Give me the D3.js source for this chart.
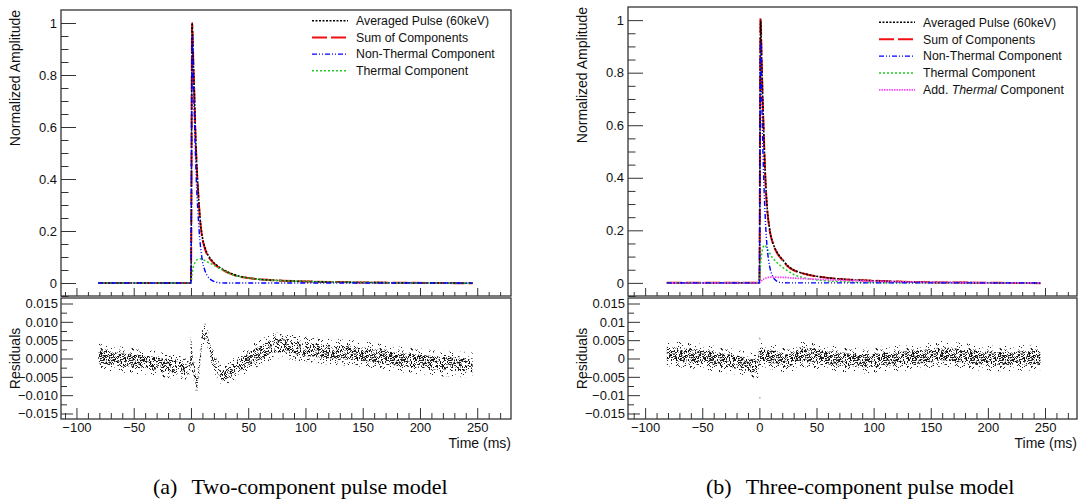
<!DOCTYPE html>
<meta charset="utf-8">
<style>

body {
    margin: 0;
    background: #fff;
}

svg {
    font-family: "Liberation Sans", Arial, sans-serif;
}

.axis text {
    font-size: 13px;
    fill: #111;
}

.axis line {
    stroke: #333;
}

.frame {
    fill: none;
    stroke: #333;
    stroke-width: 1.3;
}

.legend text {
    font-size: 12.3px;
    fill: #111;
}

.title {
    font-size: 14px;
    fill: #111;
}

.caption {
    font-family: "Liberation Serif", "Times New Roman", serif;
    font-size: 22px;
    fill: #000;
}

</style>

<svg id='chart' width='1078' height='502'></svg>

<script src='https://cdn.jsdelivr.net/npm/d3@7/dist/d3.min.js'></script>
<script>

// ---- pulse curves (time in ms, normalized amplitude) ----
const pulseTimes = [-81, -1, 0, 1, 2, 3, 4, 5, 6, 7, 8, 9, 10, 12, 14, 16, 18, 20, 25, 30, 35, 40, 50, 60, 70, 80, 100, 120, 150, 180, 210, 246];

// (a) two-component model
const avgA   = [0, 0, 0, 1.0, 0.86, 0.72, 0.57, 0.46, 0.375, 0.305, 0.245, 0.205, 0.175, 0.14, 0.115, 0.1, 0.088, 0.078, 0.06, 0.047, 0.037, 0.029, 0.02, 0.014, 0.011, 0.009, 0.006, 0.004, 0.002, 0.001, 0.0, -0.001];
const sumA   = [0, 0, 0, 1.0, 0.86, 0.72, 0.56, 0.45, 0.37, 0.30, 0.24, 0.20, 0.17, 0.135, 0.11, 0.095, 0.085, 0.075, 0.057, 0.045, 0.035, 0.027, 0.019, 0.014, 0.011, 0.009, 0.006, 0.004, 0.002, 0.001, 0.0, -0.001];
const nonThA = [0, 0, 0, 0.95, 0.79, 0.64, 0.48, 0.36, 0.28, 0.21, 0.155, 0.115, 0.085, 0.05, 0.03, 0.018, 0.011, 0.006, 0.001, 0, 0, 0, 0, 0, 0, 0, 0, 0, 0, 0, 0, 0];
const thA    = [0, 0, 0, 0.035, 0.06, 0.073, 0.082, 0.088, 0.091, 0.093, 0.093, 0.092, 0.09, 0.087, 0.082, 0.077, 0.073, 0.068, 0.056, 0.044, 0.034, 0.027, 0.019, 0.014, 0.011, 0.009, 0.006, 0.004, 0.002, 0.001, 0.0, -0.001];

// (b) three-component model
const avgB    = [0, 0, 0, 1.0, 0.85, 0.69, 0.55, 0.43, 0.34, 0.275, 0.235, 0.205, 0.18, 0.15, 0.128, 0.113, 0.1, 0.09, 0.064, 0.049, 0.04, 0.034, 0.025, 0.019, 0.015, 0.012, 0.008, 0.005, 0.002, 0.001, 0, -0.001];
const sumB    = [0, 0, 0, 1.01, 0.85, 0.68, 0.55, 0.42, 0.33, 0.27, 0.232, 0.2, 0.178, 0.148, 0.126, 0.11, 0.098, 0.088, 0.062, 0.048, 0.04, 0.034, 0.025, 0.019, 0.015, 0.012, 0.008, 0.005, 0.002, 0.001, 0, -0.001];
const nonThB  = [0, 0, 0, 0.92, 0.72, 0.52, 0.37, 0.26, 0.18, 0.125, 0.088, 0.062, 0.044, 0.022, 0.011, 0.005, 0.002, 0.001, 0, 0, 0, 0, 0, 0, 0, 0, 0, 0, 0, 0, 0, 0];
const thB     = [0, 0, 0, 0.07, 0.11, 0.132, 0.142, 0.143, 0.137, 0.128, 0.12, 0.113, 0.105, 0.093, 0.083, 0.075, 0.067, 0.06, 0.045, 0.032, 0.024, 0.018, 0.011, 0.007, 0.005, 0.003, 0.001, 0, 0, 0, 0, 0];
const addThB  = [0, 0, 0, 0.004, 0.008, 0.012, 0.015, 0.017, 0.019, 0.02, 0.021, 0.022, 0.022, 0.022, 0.022, 0.021, 0.021, 0.021, 0.02, 0.018, 0.017, 0.016, 0.014, 0.012, 0.01, 0.009, 0.006, 0.004, 0.002, 0.001, 0, 0];

// ---- residual bands: centre and half-width of the dense scatter ----
const resTimesA  = [-81, -60, -40, -20, -5, -1, 0, 1, 3, 5, 7, 9, 11, 13, 16, 20, 24, 28, 32, 40, 50, 60, 75, 85, 100, 125, 150, 175, 200, 225, 246];
const resCenterA = [0.0005, -0.0003, -0.001, -0.002, -0.0028, -0.003, 0.002, 0.0, -0.004, -0.0065, -0.003, 0.003, 0.0065, 0.006, 0.0035, -0.0005, -0.0035, -0.0048, -0.004, -0.0025, -0.0002, 0.0015, 0.0035, 0.0033, 0.0025, 0.0018, 0.0012, 0.0, -0.0008, -0.0015, -0.0017];
const resHalfA   = [0.0018, 0.0018, 0.0018, 0.0017, 0.0015, 0.0014, 0.004, 0.002, 0.0012, 0.0011, 0.0011, 0.0011, 0.0011, 0.0011, 0.0011, 0.0011, 0.0011, 0.0012, 0.0013, 0.0015, 0.0017, 0.0018, 0.0018, 0.0018, 0.0018, 0.0018, 0.0018, 0.0018, 0.0018, 0.0018, 0.0018];
const outTimesA  = [4, 5, 12];
const outValsA   = [-0.0085, -0.0078, 0.0095];

const resTimesB  = [-81, -60, -40, -20, -5, -1, 0, 2, 5, 10, 15, 20, 25, 30, 35, 45, 55, 65, 75, 90, 110, 130, 145, 160, 175, 190, 205, 220, 235, 246];
const resCenterB = [0.0014, 0.0008, 0.0, -0.001, -0.002, -0.0022, 0.0015, 0.0012, 0.0008, 0.0005, 0.0003, -0.0002, -0.0006, 0.0002, 0.0012, 0.001, 0.0004, 0.0, -0.0002, -0.0006, -0.0002, 0.0002, 0.0006, 0.0013, 0.0008, 0.0003, 0.0, 0.0, 0.0002, 0.0003];
const resHalfB   = [0.0018, 0.0018, 0.0018, 0.0018, 0.0017, 0.0017, 0.0025, 0.0017, 0.0017, 0.0017, 0.0017, 0.0017, 0.0017, 0.0017, 0.0018, 0.0018, 0.0018, 0.0018, 0.0018, 0.0018, 0.0018, 0.0018, 0.0018, 0.0018, 0.0018, 0.0018, 0.0018, 0.0018, 0.0018, 0.0018];
const outTimesB  = [0, 0];
const outValsB   = [-0.0106, 0.0055];

// ---- ticks / labels ----
const timeTicks  = [-100, -50, 0, 50, 100, 150, 200, 250];
const ampTicks   = [0, 0.2, 0.4, 0.6, 0.8, 1];
const ampLabels  = ['0', '0.2', '0.4', '0.6', '0.8', '1'];
const resTicks   = [0.015, 0.01, 0.005, 0, -0.005, -0.01, -0.015];
const resLabelsA = ['0.015', '0.010', '0.005', '0.000', '\u22120.005', '\u22120.010', '\u22120.015'];
const resLabelsB = ['0.015', '0.01', '0.005', '0', '\u22120.005', '\u22120.01', '\u22120.015'];

const styles = {
    avg:   {color: '#000',    width: 1.6, dash: '2,1.5', label: 'Averaged Pulse (60keV)'},
    sum:   {color: '#f01010', width: 2,   dash: '15,4',  label: 'Sum of Components'},
    nonTh: {color: '#0000ff', width: 1.4, dash: '5,2,1,2,1,2', label: 'Non-Thermal Component'},
    th:    {color: '#22cc22', width: 1.5, dash: '2,2',   label: 'Thermal Component'},
    addTh: {color: '#ff44ff', width: 1.8, dash: '1.5,1', label: null}
};

const svg = d3.select('#chart');
const defs = svg.append('defs');

// irregular dot textures used to render the residual scatter
function dotPattern(id, w, h, n, seed) {
    const p = defs.append('pattern')
        .attr('id', id)
        .attr('patternUnits', 'userSpaceOnUse')
        .attr('width', w)
        .attr('height', h);
    let s = seed;
    for (let i = 0; i < n; i++) {
        s = (s * 1103515245 + 12345) % 2147483648;
        const px = s % w;
        s = (s * 1103515245 + 12345) % 2147483648;
        const py = s % h;
        p.append('rect')
            .attr('x', px)
            .attr('y', py)
            .attr('width', 1)
            .attr('height', 1)
            .attr('fill', '#000')
            .attr('opacity', i % 3 === 0 ? 0.4 : 0.85);
    }
}
dotPattern('dense', 29, 23, 330, 7);
dotPattern('sparse', 31, 27, 90, 19);

drawPanel({
    left: 61, right: 511, top: 10, split: 296, resTop: 298, bottom: 419,
    xDomain: [-113.5, 279.5],
    curves: [['sum', sumA], ['avg', avgA], ['th', thA], ['nonTh', nonThA]],
    legendOrder: ['avg', 'sum', 'nonTh', 'th'],
    legendX: 312, legendY: 20.7, legendStep: 16.7,
    res: {t: resTimesA, c: resCenterA, h: resHalfA, ot: outTimesA, ov: outValsA},
    resLabels: resLabelsA,
    titleX: 20,
    caption: ['(a)', 'Two-component pulse model'], captionX: 153
});

drawPanel({
    left: 628, right: 1077, top: 7, split: 296, resTop: 298, bottom: 419,
    xDomain: [-115, 278],
    curves: [['sum', sumB], ['avg', avgB], ['th', thB], ['addTh', addThB], ['nonTh', nonThB]],
    legendOrder: ['avg', 'sum', 'nonTh', 'th', 'addTh'],
    legendX: 879, legendY: 22.3, legendStep: 16.9,
    res: {t: resTimesB, c: resCenterB, h: resHalfB, ot: outTimesB, ov: outValsB},
    resLabels: resLabelsB,
    titleX: 587,
    caption: ['(b)', 'Three-component pulse model'], captionX: 706
});

function drawPanel(p) {
    const x = d3.scaleLinear().domain(p.xDomain).range([p.left, p.right]);
    const y = d3.scaleLinear().domain([-0.05, 1.05]).range([p.split, p.top]);
    const yr = d3.scaleLinear().domain([-0.0165, 0.0165]).range([p.bottom, p.resTop]);

    const g = svg.append('g');
    const clipId = 'clip' + p.left;
    defs.append('clipPath').attr('id', clipId)
        .append('rect')
        .attr('x', p.left).attr('y', p.top)
        .attr('width', p.right - p.left).attr('height', p.bottom - p.top);

    const minorX = d3.range(-110, 280, 10).filter(d => d % 50 !== 0);
    const minorAmp = d3.range(-1, 21).map(d => d * 0.05).filter(d => Math.round(d * 100) % 20 !== 0);
    const minorRes = d3.range(-6, 7).map(d => d * 0.0025).filter(d => Math.round(d * 10000) % 50 !== 0);

    // residual scatter band
    const resData = p.res.t.map((t, i) => ({t: t, c: p.res.c[i], h: p.res.h[i]}));
    const plot = g.append('g').attr('clip-path', 'url(#' + clipId + ')');

    plot.append('path')
        .datum(resData)
        .attr('fill', 'url(#sparse)')
        .attr('d', d3.area()
            .x(d => x(d.t))
            .y0(d => yr(d.c - d.h - 0.0017))
            .y1(d => yr(d.c + d.h + 0.0017))
            .curve(d3.curveMonotoneX));

    plot.append('path')
        .datum(resData)
        .attr('fill', 'url(#dense)')
        .attr('d', d3.area()
            .x(d => x(d.t))
            .y0(d => yr(d.c - d.h))
            .y1(d => yr(d.c + d.h))
            .curve(d3.curveMonotoneX));

    plot.selectAll('.outlier')
        .data(p.res.ot.map((t, i) => ({t: t, v: p.res.ov[i]})))
        .join('rect')
            .attr('x', d => x(d.t))
            .attr('y', d => yr(d.v))
            .attr('width', 1).attr('height', 1)
            .attr('fill', '#444');

    // pulse curves
    const line = d3.line()
        .x(d => x(d.t))
        .y(d => y(d.v))
        .curve(d3.curveMonotoneX);

    p.curves.forEach(([key, vals]) => {
        const s = styles[key];
        plot.append('path')
            .datum(pulseTimes.map((t, i) => ({t: t, v: vals[i]})))
            .attr('fill', 'none')
            .attr('stroke', s.color)
            .attr('stroke-width', s.width)
            .attr('stroke-dasharray', s.dash)
            .attr('d', line);
    });

    // axes
    function axis(gen, tx, ty) {
        const a = g.append('g')
            .attr('class', 'axis')
            .attr('transform', 'translate(' + tx + ',' + ty + ')')
            .call(gen);
        a.select('.domain').remove();
        return a;
    }

    axis(d3.axisBottom(x).tickValues(timeTicks).tickSize(-8).tickFormat(''), 0, p.split);
    axis(d3.axisBottom(x).tickValues(minorX).tickSize(-4).tickFormat(''), 0, p.split);
    axis(d3.axisBottom(x).tickValues(timeTicks).tickSize(-11).tickPadding(4)
        .tickFormat(d => d3.format('')(d)), 0, p.bottom);
    axis(d3.axisBottom(x).tickValues(minorX).tickSize(-6).tickFormat(''), 0, p.bottom);

    axis(d3.axisLeft(y).tickValues(ampTicks).tickSize(-15).tickPadding(4)
        .tickFormat((d, i) => ampLabels[i]), p.left, 0);
    axis(d3.axisLeft(y).tickValues(minorAmp).tickSize(-7.5).tickFormat(''), p.left, 0);
    axis(d3.axisLeft(yr).tickValues(resTicks).tickSize(-12).tickPadding(3)
        .tickFormat((d, i) => p.resLabels[i]), p.left, 0);
    axis(d3.axisLeft(yr).tickValues(minorRes).tickSize(-6).tickFormat(''), p.left, 0);

    // frames
    g.append('rect').attr('class', 'frame')
        .attr('x', p.left).attr('y', p.top)
        .attr('width', p.right - p.left).attr('height', p.split - p.top);
    g.append('rect').attr('class', 'frame')
        .attr('x', p.left).attr('y', p.resTop)
        .attr('width', p.right - p.left).attr('height', p.bottom - p.resTop);

    // titles
    g.append('text').attr('class', 'title')
        .attr('transform', 'translate(' + p.titleX + ',' + p.top + ') rotate(-90)')
        .attr('text-anchor', 'end')
        .text('Normalized Amplitude');
    g.append('text').attr('class', 'title')
        .attr('transform', 'translate(' + p.titleX + ',' + ((p.resTop + p.bottom) / 2) + ') rotate(-90)')
        .attr('text-anchor', 'middle')
        .text('Residuals');
    g.append('text').attr('class', 'title')
        .attr('x', p.right).attr('y', 448)
        .attr('text-anchor', 'end')
        .text('Time (ms)');

    // legend
    const lg = g.append('g').attr('class', 'legend');
    p.legendOrder.forEach((key, i) => {
        const s = styles[key];
        const ly = p.legendY + i * p.legendStep;
        lg.append('line')
            .attr('x1', p.legendX).attr('x2', p.legendX + 36)
            .attr('y1', ly).attr('y2', ly)
            .attr('stroke', s.color)
            .attr('stroke-width', s.width)
            .attr('stroke-dasharray', s.dash);
        const t = lg.append('text')
            .attr('x', p.legendX + 44).attr('y', ly)
            .attr('dy', '0.35em');
        if (key === 'addTh') {
            t.append('tspan').text('Add. ');
            t.append('tspan').attr('font-style', 'italic').text('Thermal');
            t.append('tspan').text(' Component');
        } else {
            t.text(s.label);
        }
    });

    // caption
    const cap = svg.append('text').attr('class', 'caption')
        .attr('x', p.captionX).attr('y', 494);
    cap.append('tspan').text(p.caption[0]);
    cap.append('tspan').attr('dx', 14).text(p.caption[1]);
}

</script>
